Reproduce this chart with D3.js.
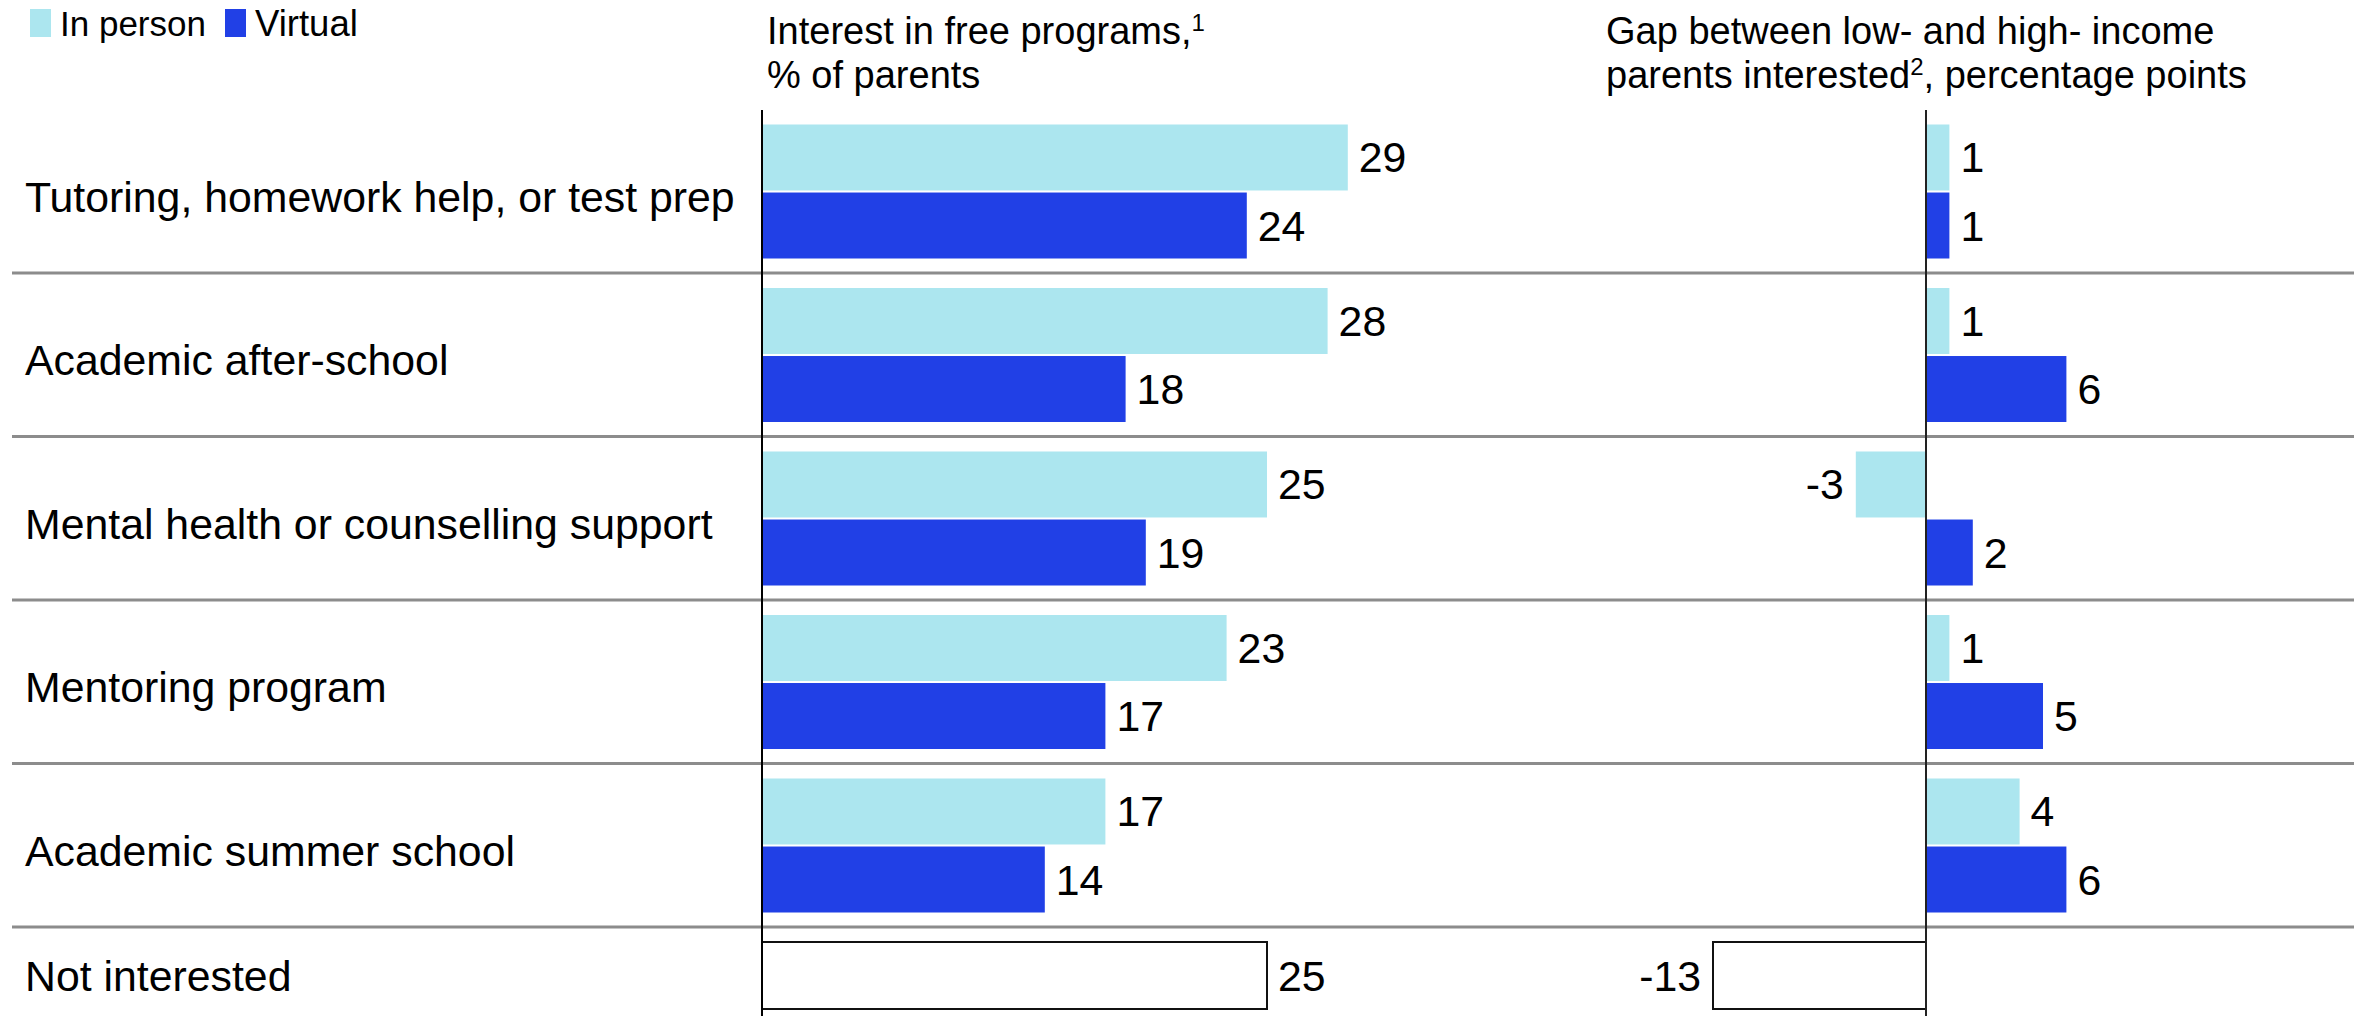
<!DOCTYPE html>
<html>
<head>
<meta charset="utf-8">
<script src="https://cdn.jsdelivr.net/npm/d3@7"></script>
<style>
  html, body { margin: 0; padding: 0; background: #fff; }
  svg { display: block; }
  text { font-family: "Liberation Sans", Arial, Helvetica, sans-serif; fill: #000; }
</style>
</head>
<body>
<svg id="chart" width="2354" height="1016"></svg>
<script>
// Program categories and the two delivery formats
const categories = [
  "Tutoring, homework help, or test prep",
  "Academic after-school",
  "Mental health or counselling support",
  "Mentoring program",
  "Academic summer school"
];
const seriesNames = ["In person", "Virtual"];

// Interest in free programs, % of parents
const interestInPerson = [29, 28, 25, 23, 17];
const interestVirtual  = [24, 18, 19, 17, 14];

// Gap between low- and high-income parents, percentage points
const gapInPerson = [1, 1, -3, 1, 4];
const gapVirtual  = [1, 6, 2, 5, 6];

// Parents not interested in any program
const notInterestedLabel = "Not interested";
const notInterestedShare = 25;
const notInterestedGap = -13;

const colors = { "In person": "#ace6ef", "Virtual": "#2140e6" };

const W = 2354, H = 1016;
const svg = d3.select("#chart");

const rows = categories.concat([notInterestedLabel]);

// Row bands
const y = d3.scaleBand().domain(rows).range([109.5, 109.5 + rows.length * 163.5]).paddingInner(0);
// Bar slots inside a row
const ySeries = d3.scaleBand().domain(seriesNames).range([15, 149]).paddingInner(0.03);

// Horizontal scales for the two panels
const xInterest = d3.scaleLinear().domain([0, 30]).range([762, 762 + 30 * 20.2]);
const xGap = d3.scaleLinear().domain([0, 6]).range([1926, 1926 + 6 * 23.4]);
const xGapNot = d3.scaleLinear().domain([-13, 0]).range([1713, 1926]);

const labelFont = 42.8;

// Legend
const legend = svg.append("g");
const legendItems = [
  { name: "In person", x: 30, tx: 60 },
  { name: "Virtual", x: 225, tx: 255 }
];
legend.selectAll("rect").data(legendItems).join("rect")
  .attr("x", d => d.x).attr("y", 9).attr("width", 21).attr("height", 28)
  .attr("fill", d => colors[d.name]);
legend.selectAll("text").data(legendItems).join("text")
  .attr("x", d => d.tx).attr("y", 36)
  .attr("font-size", d => d.name === "Virtual" ? 36.5 : 35)
  .text(d => d.name);

// Panel headers
function header(x, lines) {
  const t = svg.append("text").attr("font-size", 38);
  lines.forEach((parts, i) => {
    parts.forEach((p, j) => {
      const ts = t.append("tspan").text(p.text);
      if (j === 0) ts.attr("x", x).attr("y", 44 + i * 44);
      if (p.sup) ts.attr("font-size", 24).attr("dy", -13);
      else if (j > 0 && parts[j - 1].sup) ts.attr("dy", 13);
    });
  });
}
header(767, [
  [{ text: "Interest in free programs," }, { text: "1", sup: true }],
  [{ text: "% of parents" }]
]);
header(1606, [
  [{ text: "Gap between low- and high- income" }],
  [{ text: "parents interested" }, { text: "2", sup: true }, { text: ", percentage points" }]
]);

// Row separators
svg.append("g").selectAll("line").data(categories).join("line")
  .attr("x1", 12).attr("x2", W)
  .attr("y1", d => y(d) + y.bandwidth()).attr("y2", d => y(d) + y.bandwidth())
  .attr("stroke", "#8c8c8c").attr("stroke-width", 3);

// Category labels; the last row's label sits beside its single box
const notRow = y(notInterestedLabel) + 15;
const boxH = 67;
svg.append("g").selectAll("text").data(rows).join("text")
  .attr("x", 25)
  .attr("y", d => d === notInterestedLabel ? notRow + boxH / 2 + 15 : y(d) + 82 + 20)
  .attr("font-size", labelFont)
  .text(d => d);

// Flatten bar data
const interestBars = [], gapBars = [];
categories.forEach((c, i) => {
  interestBars.push({ cat: c, series: "In person", value: interestInPerson[i] });
  interestBars.push({ cat: c, series: "Virtual", value: interestVirtual[i] });
  gapBars.push({ cat: c, series: "In person", value: gapInPerson[i] });
  gapBars.push({ cat: c, series: "Virtual", value: gapVirtual[i] });
});

function drawBars(data, x) {
  const g = svg.append("g");
  g.selectAll("rect").data(data).join("rect")
    .attr("x", d => Math.min(x(0), x(d.value)))
    .attr("width", d => Math.abs(x(d.value) - x(0)))
    .attr("y", d => y(d.cat) + ySeries(d.series))
    .attr("height", ySeries.bandwidth())
    .attr("fill", d => colors[d.series]);
  g.selectAll("text").data(data).join("text")
    .attr("x", d => d.value >= 0 ? x(d.value) + 11 : x(d.value) - 12)
    .attr("text-anchor", d => d.value >= 0 ? "start" : "end")
    .attr("y", d => y(d.cat) + ySeries(d.series) + ySeries.bandwidth() / 2 + 15)
    .attr("font-size", labelFont)
    .text(d => d.value);
}
drawBars(interestBars, xInterest);
drawBars(gapBars, xGap);

// "Not interested" outlined boxes
svg.append("rect")
  .attr("x", xInterest(0)).attr("y", notRow)
  .attr("width", xInterest(notInterestedShare) - xInterest(0)).attr("height", boxH)
  .attr("fill", "#fff").attr("stroke", "#111").attr("stroke-width", 2);
svg.append("text")
  .attr("x", xInterest(notInterestedShare) + 11).attr("y", notRow + boxH / 2 + 15)
  .attr("font-size", labelFont).text(notInterestedShare);
svg.append("rect")
  .attr("x", xGapNot(notInterestedGap)).attr("y", notRow)
  .attr("width", xGapNot(0) - xGapNot(notInterestedGap)).attr("height", boxH)
  .attr("fill", "#fff").attr("stroke", "#111").attr("stroke-width", 2);
svg.append("text")
  .attr("x", xGapNot(notInterestedGap) - 12).attr("y", notRow + boxH / 2 + 15)
  .attr("text-anchor", "end")
  .attr("font-size", labelFont).text(notInterestedGap);

// Zero axes for both panels
svg.append("line")
  .attr("x1", xInterest(0)).attr("x2", xInterest(0)).attr("y1", 110).attr("y2", H)
  .attr("stroke", "#000").attr("stroke-width", 2);
svg.append("line")
  .attr("x1", xGap(0)).attr("x2", xGap(0)).attr("y1", 110).attr("y2", H)
  .attr("stroke", "#222").attr("stroke-width", 2);
</script>
</body>
</html>
